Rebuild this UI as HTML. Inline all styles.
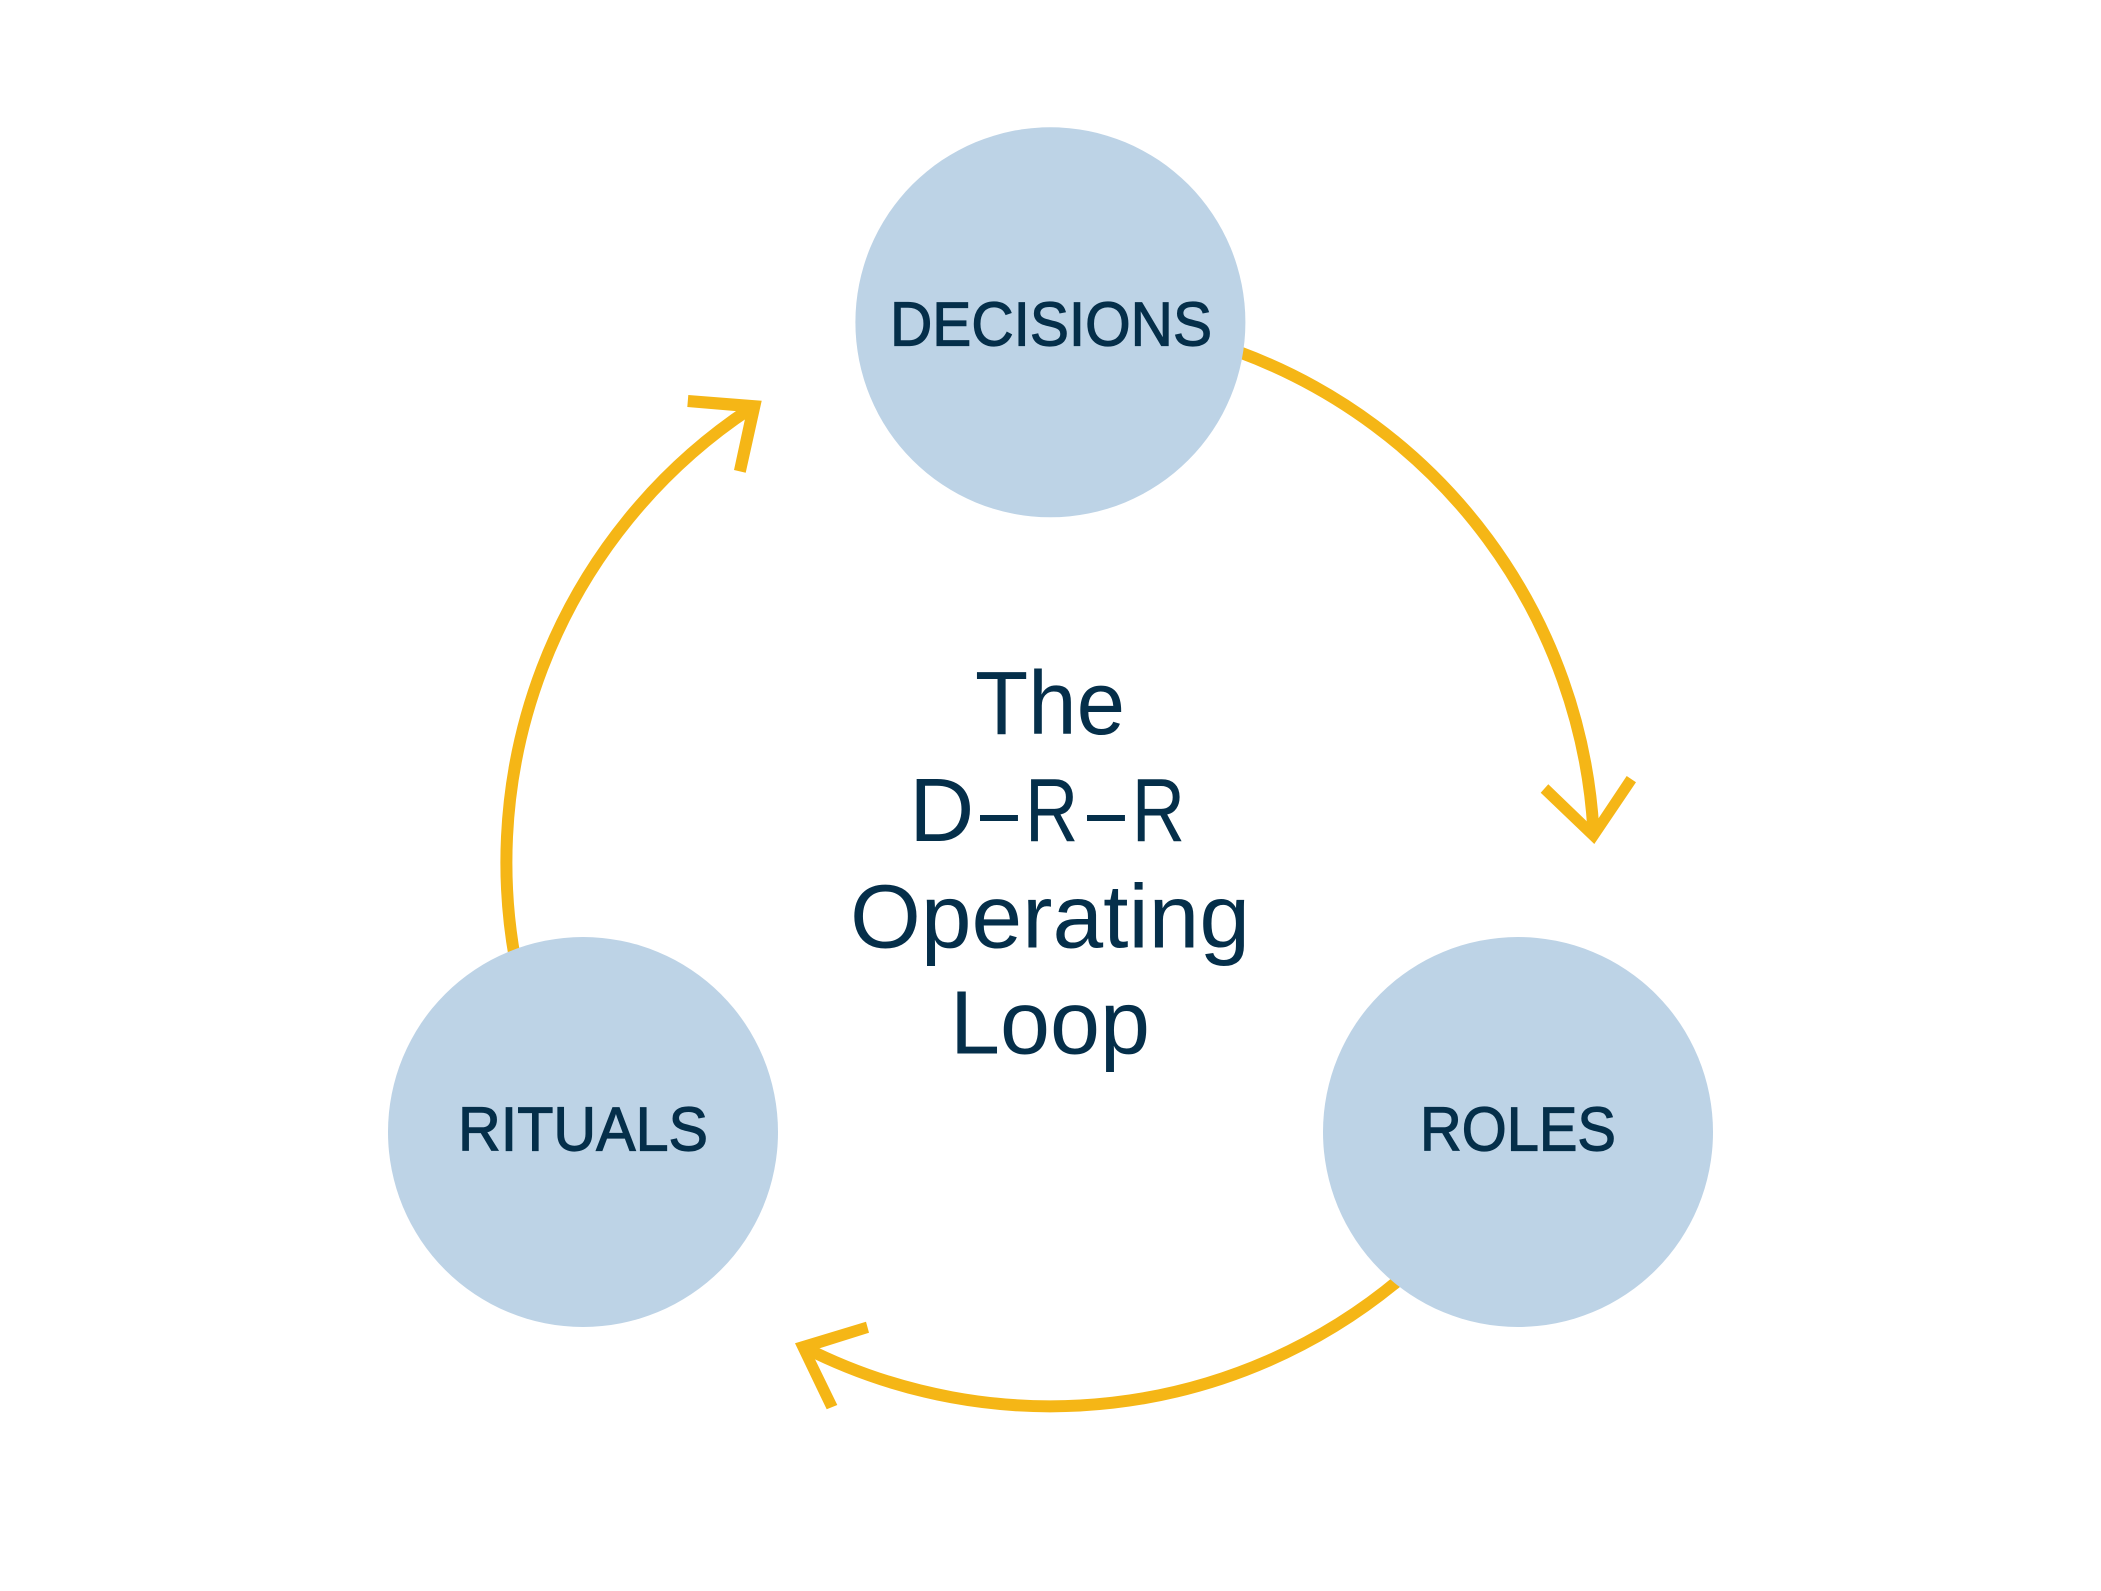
<!DOCTYPE html>
<html lang="en">
<head>
<meta charset="utf-8">
<title>The D–R–R Operating Loop</title>
<style>
html,body{margin:0;padding:0;background:#fff;width:2101px;height:1591px;overflow:hidden}
svg{display:block}
text{font-family:"Liberation Sans",Arial,sans-serif;fill:#052f4a}
.l{font-size:62.5px;stroke:#052f4a;stroke-width:1.2px}
.c{font-size:90px}
</style>
</head>
<body>
<svg xmlns="http://www.w3.org/2000/svg" width="2101" height="1591" viewBox="0 0 2101 1591">
<rect width="2101" height="1591" fill="#fff"/>
<g fill="none" stroke="#f5b616" stroke-width="12">
<path d="M1240 352.4A544 544 0 0 1 1593.4 830"/>
<path d="M1400 1279.1A544 544 0 0 1 805 1347.8"/>
<path d="M524.1 1000A544 544 0 0 1 750 408.8"/>
</g>
<g fill="#f5b616">
<polygon points="1548.3,784.3 1592.7,827 1626.7,776 1636,782.3 1594.3,844 1540.7,792.7"/>
<polygon points="866,1321.7 869,1332.7 811,1351 837.3,1405 826.7,1409.3 795,1343.3"/>
<polygon points="688.3,395 761.7,400.7 745.7,472.7 734,470 746.5,412 687.3,407"/>
</g>
<g fill="#bdd3e6">
<circle cx="1050.4" cy="322.3" r="195"/>
<circle cx="583" cy="1132" r="195"/>
<circle cx="1518" cy="1132" r="195"/>
</g>
<text class="l" x="890" y="345.7" textLength="322" lengthAdjust="spacingAndGlyphs">DECISIONS</text>
<text class="l" x="458" y="1150.7" textLength="250" lengthAdjust="spacingAndGlyphs">RITUALS</text>
<text class="l" x="1420" y="1150.7" textLength="196" lengthAdjust="spacingAndGlyphs">ROLES</text>
<text class="c" x="975" y="734" textLength="150" lengthAdjust="spacingAndGlyphs">The</text>
<text class="c" x="909.3" y="841" textLength="65" lengthAdjust="spacingAndGlyphs">D</text>
<text class="c" x="980" y="841" textLength="38" lengthAdjust="spacingAndGlyphs">–</text>
<text class="c" x="1025" y="841" textLength="53.3" lengthAdjust="spacingAndGlyphs">R</text>
<text class="c" x="1087" y="841" textLength="38" lengthAdjust="spacingAndGlyphs">–</text>
<text class="c" x="1131.7" y="841" textLength="53.3" lengthAdjust="spacingAndGlyphs">R</text>
<text class="c" x="850" y="947.3" textLength="400" lengthAdjust="spacingAndGlyphs">Operating</text>
<text class="c" x="950" y="1053.5" textLength="200" lengthAdjust="spacingAndGlyphs">Loop</text>
</svg>
</body>
</html>
